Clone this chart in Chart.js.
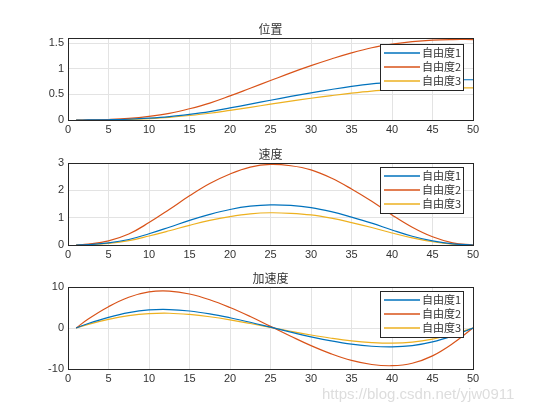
<!DOCTYPE html>
<html><head><meta charset="utf-8">
<script src="https://cdn.jsdelivr.net/npm/chart.js@4"></script>
<style>body{margin:0;background:#fff;width:553px;height:415px;overflow:hidden}canvas{position:absolute;left:0;top:0}</style>
</head><body>
<canvas id="c0" width="553" height="415"></canvas>
<canvas id="c1" width="553" height="415"></canvas>
<canvas id="c2" width="553" height="415"></canvas>
<script>
const xs=[1,2.5,5,7.5,10,12.5,15,17.5,20,22.5,25,27.5,30,32.5,35,37.5,40,42.5,45,47.5,50];
const seriesNames=['自由度1','自由度2','自由度3'];
const titles=['位置','速度','加速度'];
const pos1=[0,0.0005,0.005,0.015,0.035,0.065,0.11,0.165,0.235,0.31,0.385,0.46,0.53,0.595,0.655,0.705,0.74,0.765,0.78,0.785,0.785];
const pos2=[0,0.001,0.01,0.03,0.07,0.13,0.22,0.33,0.47,0.62,0.77,0.92,1.06,1.19,1.31,1.41,1.48,1.53,1.56,1.57,1.57];
const pos3=[0,0.0004,0.004,0.012,0.028,0.052,0.088,0.132,0.188,0.248,0.308,0.368,0.424,0.476,0.524,0.564,0.592,0.612,0.624,0.628,0.628];
const vel1=[0,0.015,0.075,0.2,0.41,0.65,0.9,1.12,1.3,1.42,1.47,1.45,1.37,1.22,1.02,0.8,0.55,0.32,0.15,0.04,0];
const vel2=[0,0.03,0.15,0.4,0.82,1.3,1.8,2.25,2.6,2.85,2.95,2.9,2.75,2.45,2.05,1.6,1.1,0.65,0.3,0.08,0];
const vel3=[0,0.012,0.06,0.16,0.33,0.52,0.72,0.9,1.04,1.14,1.18,1.16,1.1,0.98,0.82,0.64,0.44,0.26,0.12,0.03,0];
const acc1=[0,1.1,2.6,3.75,4.4,4.5,4.15,3.45,2.5,1.4,0.2,-1.0,-2.15,-3.15,-3.95,-4.45,-4.6,-4.3,-3.4,-1.9,0];
const acc2=[0,2.2,5.2,7.5,8.8,9.0,8.3,6.9,5.0,2.8,0.4,-2.0,-4.3,-6.3,-7.9,-8.9,-9.2,-8.6,-6.8,-3.8,0];
const acc3=[0,0.9,2.1,3.0,3.5,3.6,3.3,2.75,2.0,1.1,0.15,-0.8,-1.7,-2.5,-3.15,-3.55,-3.7,-3.45,-2.7,-1.5,0];
const yTicks=[[0,0.5,1,1.5],[0,1,2,3],[-10,0,10]];
const yRanges=[[0,1.6],[0,3],[-10,10]];
const colors=['#0072BD','#D95319','#EDB120'];
const data=[[pos1,pos2,pos3],[vel1,vel2,vel3],[acc1,acc2,acc3]];
const tops=[38,163,287],bottoms=[120,245,369];
const L=68,R=473;
const font={family:'Arial, "Liberation Sans", "Noto Sans CJK SC", sans-serif',size:11};
const deco={id:'deco',afterDraw(ch){
  const c=ch.ctx,a=ch.chartArea,i=ch.options.plugins.idx;
  c.save();
  c.strokeStyle='#262626';c.lineWidth=1;
  c.strokeRect(a.left+0.5,a.top+0.5,a.right-a.left,a.bottom-a.top);
  c.fillStyle='#333';c.font='12px "Noto Sans CJK SC", sans-serif';c.textAlign='center';c.textBaseline='bottom';
  c.fillText(titles[i],(a.left+a.right)/2,a.top-3);
  const bx=380,by=a.top+(i==0?6:4),bw=83,bh=46;
  c.fillStyle='#fff';c.fillRect(bx,by,bw,bh);c.strokeStyle='#262626';c.strokeRect(bx+0.5,by+0.5,bw,bh);
  c.font='11px "Noto Sans CJK SC", sans-serif';c.textAlign='left';c.textBaseline='middle';
  for(let k=0;k<3;k++){const yy=by+9+k*14;c.strokeStyle=colors[k];c.lineWidth=1.3;c.beginPath();c.moveTo(bx+4,yy);c.lineTo(bx+40,yy);c.stroke();c.fillStyle='#333';c.fillText(seriesNames[k],bx+42,yy);}
  c.restore();}};
for(let i=0;i<3;i++){
  new Chart(document.getElementById('c'+i),{type:'line',
    data:{labels:xs,datasets:[0,1,2].map(k=>({label:seriesNames[k],data:xs.map((x,j)=>({x,y:data[i][k][j]})),borderColor:colors[k],borderWidth:1.2,pointRadius:0,tension:0.4,fill:false}))},
    options:{responsive:false,animation:false,
      layout:{padding:{left:L-30,right:553-R,top:tops[i],bottom:415-bottoms[i]-18}},
      plugins:{legend:{display:false},title:{display:false},tooltip:{enabled:false},idx:i},
      scales:{
        x:{type:'linear',min:0,max:50,afterFit(s){s.height=18;},ticks:{stepSize:5,color:'#333',font,padding:3},grid:{color:'#e3e3e3',drawTicks:false},border:{display:false}},
        y:{min:yRanges[i][0],max:yRanges[i][1],afterFit(s){s.width=30;},afterBuildTicks(s){s.ticks=yTicks[i].map(v=>({value:v}));},ticks:{color:'#333',font,padding:4,callback:v=>String(v)},grid:{color:'#e3e3e3',drawTicks:false},border:{display:false}}
      }},plugins:[deco]});
}
</script>
<div style="position:absolute;left:322px;top:385px;color:#ddd;font:15px Arial,sans-serif">https://blog.csdn.net/yjw0911</div>
</body></html>
